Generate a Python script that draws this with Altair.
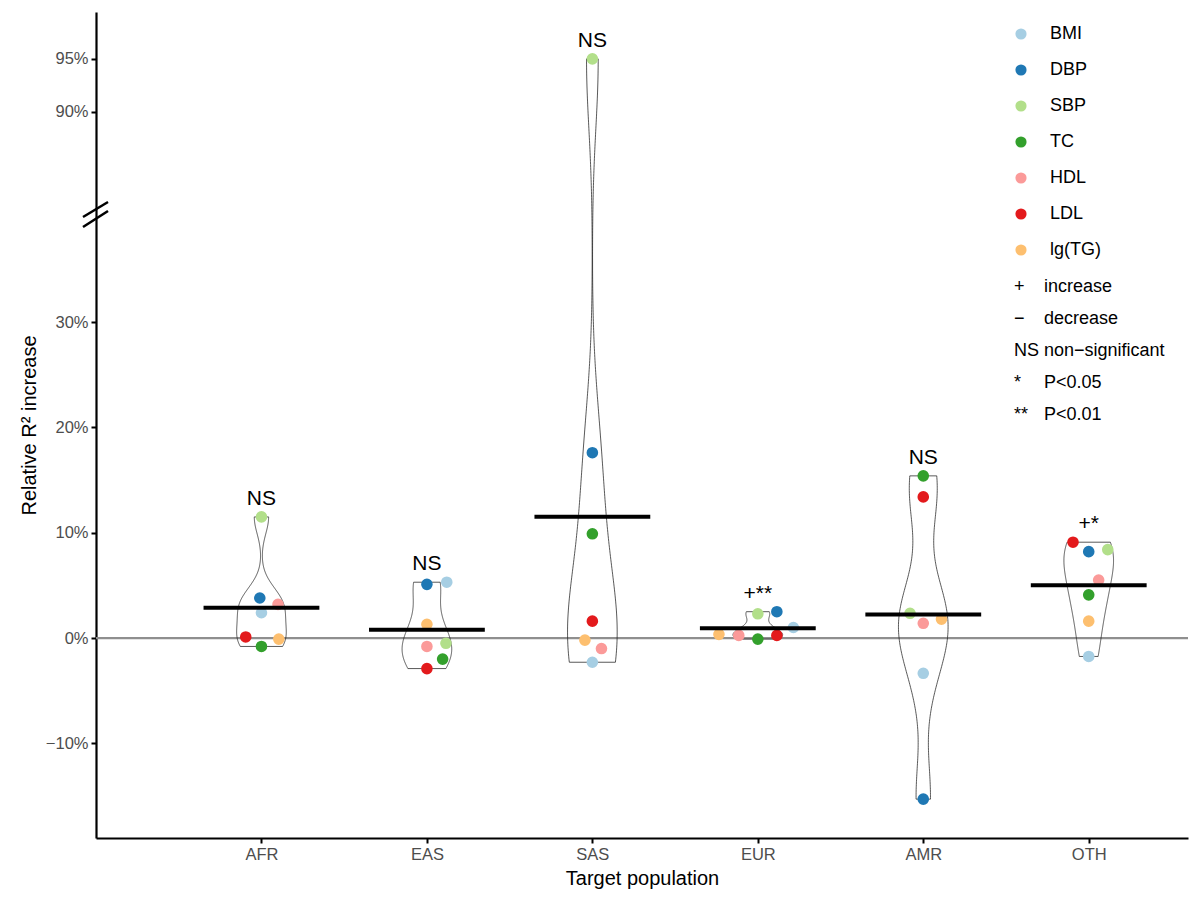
import json

import altair as alt
import numpy as np
import pandas as pd

# populations on the x axis, traits coloured
pops = ["AFR", "EAS", "SAS", "EUR", "AMR", "OTH"]
traits = ["BMI", "DBP", "SBP", "TC", "HDL", "LDL", "lg(TG)"]
trait_colors = ["#A6CEE3", "#1F78B4", "#B2DF8A", "#33A02C", "#FB9A99", "#E31A1C", "#FDBF6F"]

# relative R2 increase (%), trait order as above
afr = [2.4, 3.8, 11.5, -0.8, 3.2, 0.1, -0.1]
eas = [5.3, 5.1, -0.5, -2.0, -0.8, -2.9, 1.3]
sas = [-2.3, 17.6, 95.0, 9.9, -1.0, 1.6, -0.2]
eur = [1.0, 2.5, 2.3, -0.1, 0.25, 0.25, 0.35]
amr = [-3.35, -15.3, 2.35, 15.4, 1.4, 13.4, 1.8]
oth = [-1.75, 8.2, 8.4, 4.1, 5.5, 9.1, 1.6]

# sideways dodge of each dot, in category steps
afr_dx = [0, -0.01, 0, 0, 0.1, -0.095, 0.105]
eas_dx = [0.12, 0, 0.115, 0.095, 0, 0, 0]
sas_dx = [0, 0, 0, 0, 0.055, 0, -0.045]
eur_dx = [0.215, 0.115, 0, 0, -0.115, 0.115, -0.235]
amr_dx = [0, 0, -0.08, 0, 0, 0, 0.11]
oth_dx = [0, 0, 0.115, 0, 0.06, -0.095, 0]

sig_labels = ["NS", "NS", "NS", "+**", "NS", "+*"]

key_symbols = ["+", "\u2212", "NS", "*", "**"]
key_text = ["increase", "decrease", "non\u2212significant", "P<0.05", "P<0.01"]

# broken axis: everything above 60% is pulled down by 40
BREAK_AT = 60
GAP = 40

FONT = "Liberation Sans"

values = [afr, eas, sas, eur, amr, oth]
offsets = [afr_dx, eas_dx, sas_dx, eur_dx, amr_dx, oth_dx]
rows = []
for i, (pop, vals, dxs) in enumerate(zip(pops, values, offsets), start=1):
    for trait, v, d in zip(traits, vals, dxs):
        rows.append({"pop": pop, "idx": i, "trait": trait, "value": v,
                     "dx": d, "label": sig_labels[i - 1]})
df = pd.DataFrame(rows)
df["yp"] = np.where(df["value"] > BREAK_AT, df["value"] - GAP, df["value"])
df["xpos"] = df["idx"] + df["dx"]


def nrd0(v):
    # same bandwidth rule as R's density()
    v = np.asarray(v, float)
    iqr = np.subtract(*np.percentile(v, [75, 25]))
    return 0.9 * min(v.std(ddof=1), iqr / 1.34) * len(v) ** -0.2


x_axis = alt.Axis(
    values=list(range(1, 7)),
    labelExpr=json.dumps(pops) + "[datum.value - 1]",
    grid=False, title="Target population",
)
y_axis = alt.Axis(
    values=[-10, 0, 10, 20, 30, 50, 55],
    labelExpr="(datum.value > 40 ? datum.value + 40 : (datum.value < 0 ? '\u2212' + abs(datum.value) : datum.value)) + '%'",
    grid=False, title="Relative  R\u00b2 increase",
)
x_scale = alt.Scale(domain=[0, 6.6], nice=False, zero=False)
y_scale = alt.Scale(domain=[-18.99, 59.45], nice=False, zero=False)


def X(field):
    return alt.X(field, type="quantitative", scale=x_scale, axis=x_axis)


def Y(field):
    return alt.Y(field, type="quantitative", scale=y_scale, axis=y_axis)


zero = alt.Chart(pd.DataFrame({"y": [0]})).mark_rule(
    color="#8F8F8F", strokeWidth=2.2
).encode(y=Y("y"))

violins = []
for pop in pops:
    sub = df[df["pop"] == pop]
    v = alt.Chart(sub).transform_density(
        "yp", as_=["yp", "dens"], bandwidth=float(nrd0(sub["yp"])), groupby=["idx"]
    ).transform_joinaggregate(
        dmax="max(dens)"
    ).transform_calculate(
        xl="datum.idx - 0.15 * datum.dens / datum.dmax",
        xr="datum.idx + 0.15 * datum.dens / datum.dmax",
    ).mark_area(
        orient="horizontal", fill="white", fillOpacity=0,
        stroke="#222222", strokeWidth=0.75
    ).encode(x=X("xl"), x2="xr:Q", y=Y("yp"))
    violins.append(v)

points = alt.Chart(df).mark_circle(size=135, opacity=1).encode(
    x=X("xpos"),
    y=Y("yp"),
    color=alt.Color(
        "trait:N",
        scale=alt.Scale(domain=traits, range=trait_colors),
        legend=alt.Legend(
            orient="none", legendX=916, legendY=13, title=None, padding=0,
            symbolType="circle", symbolSize=125, symbolStrokeWidth=0,
            labelFontSize=18, labelFont=FONT, labelColor="#000000",
            labelOffset=20, rowPadding=18,
        ),
    ),
)

means = alt.Chart(df).transform_aggregate(
    m="mean(yp)", groupby=["idx"]
).transform_calculate(
    xl="datum.idx - 0.35", xr="datum.idx + 0.35"
).mark_rule(color="black", strokeWidth=4).encode(x=X("xl"), x2="xr:Q", y=Y("m"))

labels = alt.Chart(df).transform_aggregate(
    top="max(yp)", groupby=["idx", "label"]
).mark_text(
    dy=-18, fontSize=21, font=FONT, color="black", baseline="middle"
).encode(x=X("idx"), y=Y("top"), text="label:N")

# break marks on the y axis
brk1 = alt.Chart(pd.DataFrame({"a": [0]})).mark_rule(color="black", strokeWidth=2.5).encode(
    x=alt.value(-13), x2=alt.value(12), y=alt.value(205), y2=alt.value(190))
brk2 = alt.Chart(pd.DataFrame({"a": [0]})).mark_rule(color="black", strokeWidth=2.5).encode(
    x=alt.value(-13), x2=alt.value(12), y=alt.value(215), y2=alt.value(199))

key_sym = alt.Chart(pd.DataFrame({"a": [0]})).mark_text(
    text=key_symbols, lineHeight=32, fontSize=18, font=FONT, align="left",
    baseline="top", color="black"
).encode(x=alt.value(918), y=alt.value(266))
key_lab = alt.Chart(pd.DataFrame({"a": [0]})).mark_text(
    text=key_text, lineHeight=32, fontSize=18, font=FONT, align="left",
    baseline="top", color="black"
).encode(x=alt.value(948), y=alt.value(266))

chart = alt.layer(
    zero, *violins, points, means, labels, brk1, brk2, key_sym, key_lab
).properties(
    width=1092, height=826,
    autosize=alt.AutoSizeParams(type="none"),
    padding={"left": 88, "top": 4, "right": 4, "bottom": 54},
).configure_view(
    stroke=None
).configure_axis(
    domainColor="black", domainWidth=2.2, tickColor="black", tickWidth=2,
    tickSize=5, labelColor="#4D4D4D", labelFontSize=16.5, labelFont=FONT,
    titleFont=FONT, titleFontSize=20, titleFontWeight="normal", titleColor="black",
    labelPadding=3, titlePadding=6,
)

chart.save("out.html", embed_options={"renderer": "svg", "actions": False})
